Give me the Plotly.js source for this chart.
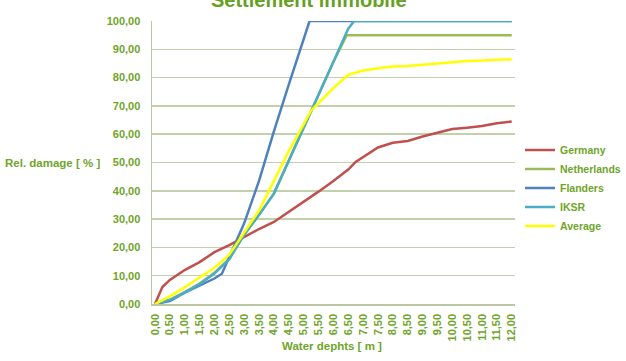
<!DOCTYPE html>
<html>
<head>
<meta charset="utf-8">
<script src="https://cdn.plot.ly/plotly-3.0.1.min.js"></script>
<style>html,body{margin:0;padding:0;background:#fff;}#chart{width:626px;height:361px;}</style>
</head>
<body>
<div id="chart"></div>
<script>
// ---- data ----
const germanyX = [0,0.25,0.5,0.75,1,1.5,2,2.5,3,3.5,4,4.5,5,5.5,6,6.5,6.75,7,7.5,8,8.5,9,9.5,10,10.5,11,11.5,12];
const germanyY = [0,6,8.5,10.3,12,14.8,18.3,20.8,23.8,26.5,29,32.5,36,39.7,43.5,47.5,50.2,52,55.3,57,57.6,59.2,60.4,61.8,62.3,62.9,63.9,64.5];

const netherlandsX = [0,0.5,1,1.5,2,2.5,3,3.5,4,4.5,5,5.5,6,6.45,12];
const netherlandsY = [0,1.5,4.2,7.2,11,16,24.5,31.5,39,50.5,62,73.5,85.5,95,95];

const flandersX = [0,0.5,1,1.5,2,2.25,2.5,3,3.5,4,4.5,5,5.2,12];
const flandersY = [0,1,4,6.5,9,10.7,16.5,28.5,43.5,61,77.5,94,100,100];

const iksrX = [0,0.5,1,1.5,2,2.5,3,3.5,4,4.5,5,5.5,6,6.5,6.7,12];
const iksrY = [0,1.5,4,7,10.8,15.8,24.5,31.5,39,50.5,62,73.5,85.5,97.3,100,100];

const averageX = [0,0.5,1,1.5,2,2.5,3,3.5,4,4.5,5,5.25,5.5,6,6.5,7,7.5,8,8.5,9,9.5,10,10.5,11,11.5,12];
const averageY = [0,2.7,5.9,9.2,12.8,17.4,25,33,43.5,54,63.5,68.3,71,76.3,81,82.5,83.3,83.9,84.1,84.6,85,85.5,85.9,86,86.3,86.5];

const xTickVals = [0,0.5,1,1.5,2,2.5,3,3.5,4,4.5,5,5.5,6,6.5,7,7.5,8,8.5,9,9.5,10,10.5,11,11.5,12];
const xTickText = ["0,00","0,50","1,00","1,50","2,00","2,50","3,00","3,50","4,00","4,50","5,00","5,50","6,00","6,50","7,00","7,50","8,00","8,50","9,00","9,50","10,00","10,50","11,00","11,50","12,00"];
const yTickVals = [0,10,20,30,40,50,60,70,80,90,100];
const yTickText = ["0,00","10,00","20,00","30,00","40,00","50,00","60,00","70,00","80,00","90,00","100,00"];

const seriesNames = ["Germany","Netherlands","Flanders","IKSR","Average"];
const seriesColors = ["#C0504D","#9BBB59","#4F81BD","#4BACC6","#FFFF00"];

// ---- chart ----
const TXT = "#6FA52A";
const FONT = "Liberation Sans, Arial, sans-serif";
const xs = [germanyX, netherlandsX, flandersX, iksrX, averageX];
const ys = [germanyY, netherlandsY, flandersY, iksrY, averageY];

const traces = seriesNames.map((n, i) => ({
  type: "scatter", mode: "lines", name: n,
  x: xs[i], y: ys[i],
  line: {color: seriesColors[i], width: 2.5}
}));

const layout = {
  width: 626, height: 361,
  margin: {l: 152, r: 111, t: 21, b: 57, autoexpand: false},
  paper_bgcolor: "#ffffff", plot_bgcolor: "#ffffff",
  font: {family: FONT, color: TXT, size: 11},
  showlegend: true,
  legend: {
    x: 1.0138, xanchor: "left", y: 0.595, yanchor: "top",
    font: {family: FONT, size: 10.5, color: TXT, weight: "bold"},
    bgcolor: "rgba(0,0,0,0)", borderwidth: 0, tracegroupgap: 0
  },
  xaxis: {
    range: [-0.1, 12.11], fixedrange: true,
    tickmode: "array", tickvals: xTickVals, ticktext: xTickText,
    tickangle: -90, ticks: "outside", ticklen: 4, tickcolor: "rgba(0,0,0,0)",
    tickfont: {family: FONT, size: 11, color: TXT, weight: "bold"},
    showgrid: false, zeroline: false,
    showline: true, linecolor: "#B9C8A2", linewidth: 1.5
  },
  yaxis: {
    range: [0, 100], fixedrange: true,
    tickmode: "array", tickvals: yTickVals, ticktext: yTickText,
    ticks: "outside", ticklen: 8, tickcolor: "rgba(0,0,0,0)",
    tickfont: {family: FONT, size: 11, color: TXT, weight: "bold"},
    showgrid: true, gridcolor: "#C3D0AE", gridwidth: 1.5,
    zeroline: false,
    showline: true, linecolor: "#B9C8A2", linewidth: 1.5
  },
  annotations: [
    {text: "Settlement immobile", xref: "paper", yref: "paper", x: 0.433, y: 1,
     xanchor: "center", yanchor: "bottom", yshift: 8, showarrow: false,
     font: {family: FONT, size: 20, color: "#66A023", weight: "bold"}},
    {text: "Rel. damage [ % ]", xref: "paper", yref: "paper", x: -0.1386, y: 0.5,
     xanchor: "right", yanchor: "middle", showarrow: false,
     font: {family: FONT, size: 11.5, color: TXT, weight: "bold"}},
    {text: "Water dephts [ m ]", xref: "paper", yref: "paper", x: 0.497, y: -0.147,
     xanchor: "center", yanchor: "middle", showarrow: false,
     font: {family: FONT, size: 11.5, color: TXT, weight: "bold"}}
  ]
};

Plotly.newPlot("chart", traces, layout, {displayModeBar: false, staticPlot: true});
</script>
</body>
</html>
